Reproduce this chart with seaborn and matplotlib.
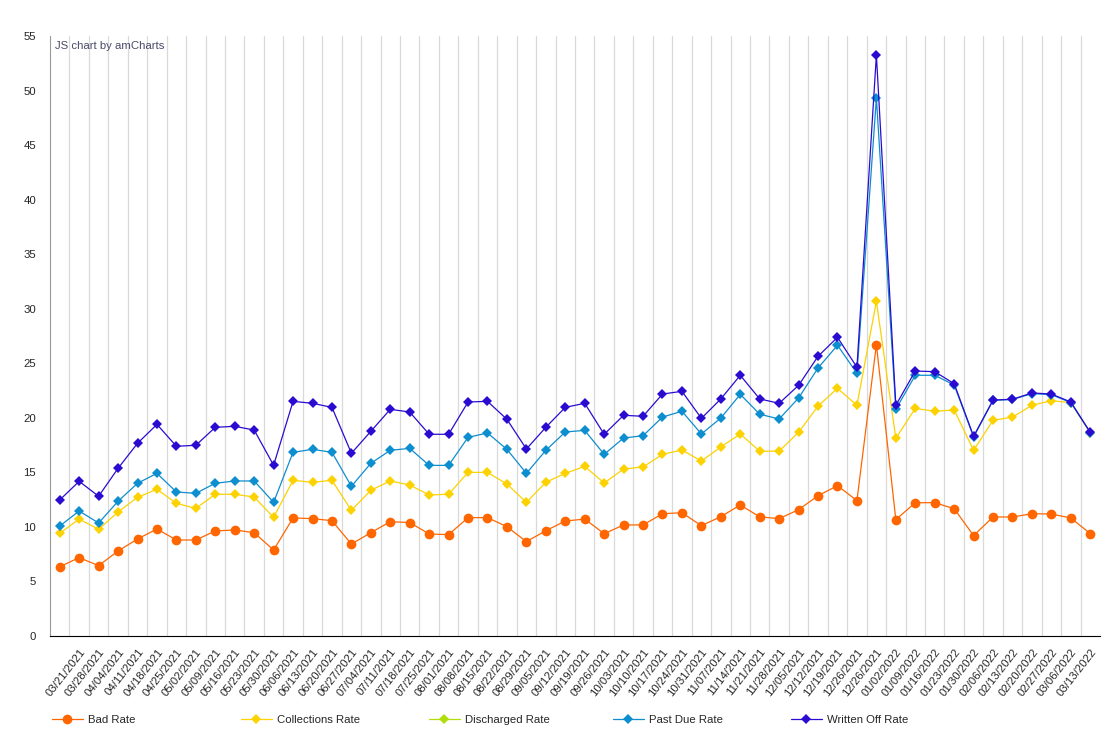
import numpy as np
import pandas as pd
import seaborn as sns
import matplotlib.pyplot as plt
from matplotlib.lines import Line2D

# weekly labels (the first point on the axis carries no label)
week_labels = ["03/21/2021", "03/28/2021", "04/04/2021", "04/11/2021", "04/18/2021", "04/25/2021",
               "05/02/2021", "05/09/2021", "05/16/2021", "05/23/2021", "05/30/2021", "06/06/2021",
               "06/13/2021", "06/20/2021", "06/27/2021", "07/04/2021", "07/11/2021", "07/18/2021",
               "07/25/2021", "08/01/2021", "08/08/2021", "08/15/2021", "08/22/2021", "08/29/2021",
               "09/05/2021", "09/12/2021", "09/19/2021", "09/26/2021", "10/03/2021", "10/10/2021",
               "10/17/2021", "10/24/2021", "10/31/2021", "11/07/2021", "11/14/2021", "11/21/2021",
               "11/28/2021", "12/05/2021", "12/12/2021", "12/19/2021", "12/26/2021", "12/26/2021",
               "01/02/2022", "01/09/2022", "01/16/2022", "01/23/2022", "01/30/2022", "02/06/2022",
               "02/13/2022", "02/20/2022", "02/27/2022", "03/06/2022", "03/13/2022"]
categories = [""] + week_labels

bad_rate = [6.35, 7.18, 6.45, 7.79, 8.89, 9.81, 8.80, 8.80, 9.63, 9.72, 9.47, 7.88, 10.82, 10.76,
            10.57, 8.43, 9.47, 10.48, 10.40, 9.35, 9.29, 10.85, 10.85, 10.02, 8.65, 9.65, 10.54,
            10.72, 9.38, 10.18, 10.18, 11.21, 11.30, 10.11, 10.94, 12.01, 10.92, 10.76, 11.58,
            12.86, 13.78, 12.41, 26.71, 10.67, 12.22, 12.22, 11.67, 9.20, 10.91, 10.91, 11.21,
            11.18, 10.82, 9.38]
collections_rate = [9.41, 10.72, 9.78, 11.37, 12.71, 13.45, 12.16, 11.70, 12.99, 12.99, 12.74, 10.88,
                    14.27, 14.09, 14.27, 11.52, 13.36, 14.21, 13.84, 12.93, 12.99, 15.00, 15.00,
                    13.93, 12.25, 14.09, 14.91, 15.55, 14.02, 15.31, 15.49, 16.65, 17.05, 16.04,
                    17.33, 18.52, 16.93, 16.95, 18.67, 21.08, 22.70, 21.15, 30.68, 18.12, 20.87,
                    20.60, 20.72, 17.02, 19.77, 20.07, 21.15, 21.57, 21.39, 18.60]
discharged_rate = []  # listed in the legend, no values shown
past_due_rate = [10.08, 11.46, 10.36, 12.35, 14.00, 14.91, 13.20, 13.08, 14.00, 14.21, 14.21, 12.25,
                 16.84, 17.11, 16.84, 13.72, 15.83, 17.02, 17.20, 15.64, 15.64, 18.21, 18.61, 17.11,
                 14.91, 17.02, 18.70, 18.85, 16.65, 18.15, 18.36, 20.07, 20.60, 18.52, 19.98, 22.15,
                 20.33, 19.89, 21.82, 24.57, 26.65, 24.08, 49.32, 20.78, 23.90, 23.90, 23.01, 18.25,
                 21.60, 21.68, 22.22, 22.12, 21.40, 18.65]
written_off_rate = [12.47, 14.18, 12.81, 15.37, 17.66, 19.40, 17.39, 17.48, 19.13, 19.22, 18.88,
                    15.65, 21.51, 21.33, 20.96, 16.75, 18.76, 20.78, 20.53, 18.49, 18.49, 21.45,
                    21.51, 19.86, 17.14, 19.13, 20.96, 21.33, 18.49, 20.23, 20.14, 22.18, 22.43,
                    19.95, 21.73, 23.90, 21.73, 21.33, 22.98, 25.64, 27.38, 24.63, 53.26, 21.15,
                    24.29, 24.23, 23.13, 18.30, 21.63, 21.70, 22.28, 22.18, 21.45, 18.67]

series = [
    ("Bad Rate", bad_rate, "#FF6600", "o", 7),
    ("Collections Rate", collections_rate, "#FCD202", "D", 5.3),
    ("Discharged Rate", discharged_rate, "#B0DE09", "D", 5.3),
    ("Past Due Rate", past_due_rate, "#0D8ECF", "D", 5.3),
    ("Written Off Rate", written_off_rate, "#2A0CD0", "D", 5.3),
]

sns.set_style("white")
plt.rcParams['font.family'] = ['Liberation Sans', 'DejaVu Sans']

fig = plt.figure(figsize=(11.15, 7.48), dpi=100)
ax = fig.add_axes([50 / 1115, 112 / 748, 1050 / 1115, 600 / 748])

handles = []
for name, vals, color, marker, ms in series:
    if len(vals):
        df = pd.DataFrame({"pos": np.arange(len(vals)), "value": vals})
        sns.lineplot(data=df, x="pos", y="value", color=color, marker=marker, markersize=ms,
                     markeredgecolor=color, markeredgewidth=0, linewidth=0.9, ax=ax)
    handles.append(Line2D([], [], color=color, marker=marker, markersize=ms,
                          markeredgewidth=0, linewidth=0.9))

ax.set_xlim(-0.5, len(categories) - 0.5)
ax.set_ylim(0, 55)
ax.set_yticks(range(0, 56, 5))
ax.set_xticks(range(1, len(categories)))
ax.set_xticklabels(week_labels, rotation=52, ha="right", rotation_mode="anchor", fontsize=8.2)
ax.set_xticks(np.arange(0.5, len(categories) - 1, 1), minor=True)
ax.grid(True, which="minor", axis="x", color="#d9d9d9", linewidth=0.9)
ax.grid(False, which="major")
ax.set_axisbelow(True)
ax.tick_params(axis="x", which="major", length=5, width=0.8, color="black", pad=3)
ax.tick_params(axis="x", which="minor", length=0)
ax.tick_params(axis="y", length=5, width=0.8, color="#999999", labelsize=8.2, pad=5)
ax.set_xlabel("")
ax.set_ylabel("")
sns.despine(ax=ax)
ax.spines["left"].set_color("#999999")
ax.spines["bottom"].set_color("black")

fig.text(55 / 1115, 1 - 46 / 748, "JS chart by amCharts", fontsize=8.2, color="#4a4a6a", va="center")

legend_x = [52, 241, 429, 613, 791]
for h, (name, *_), lx in zip(handles, series, legend_x):
    fig.legend([h], [name], loc="center left", bbox_to_anchor=(lx / 1115, 1 - 720 / 748),
               frameon=False, fontsize=8.2, handlelength=2.7, handletextpad=0.5,
               borderpad=0, borderaxespad=0)

fig.savefig("out.png", dpi=100)
